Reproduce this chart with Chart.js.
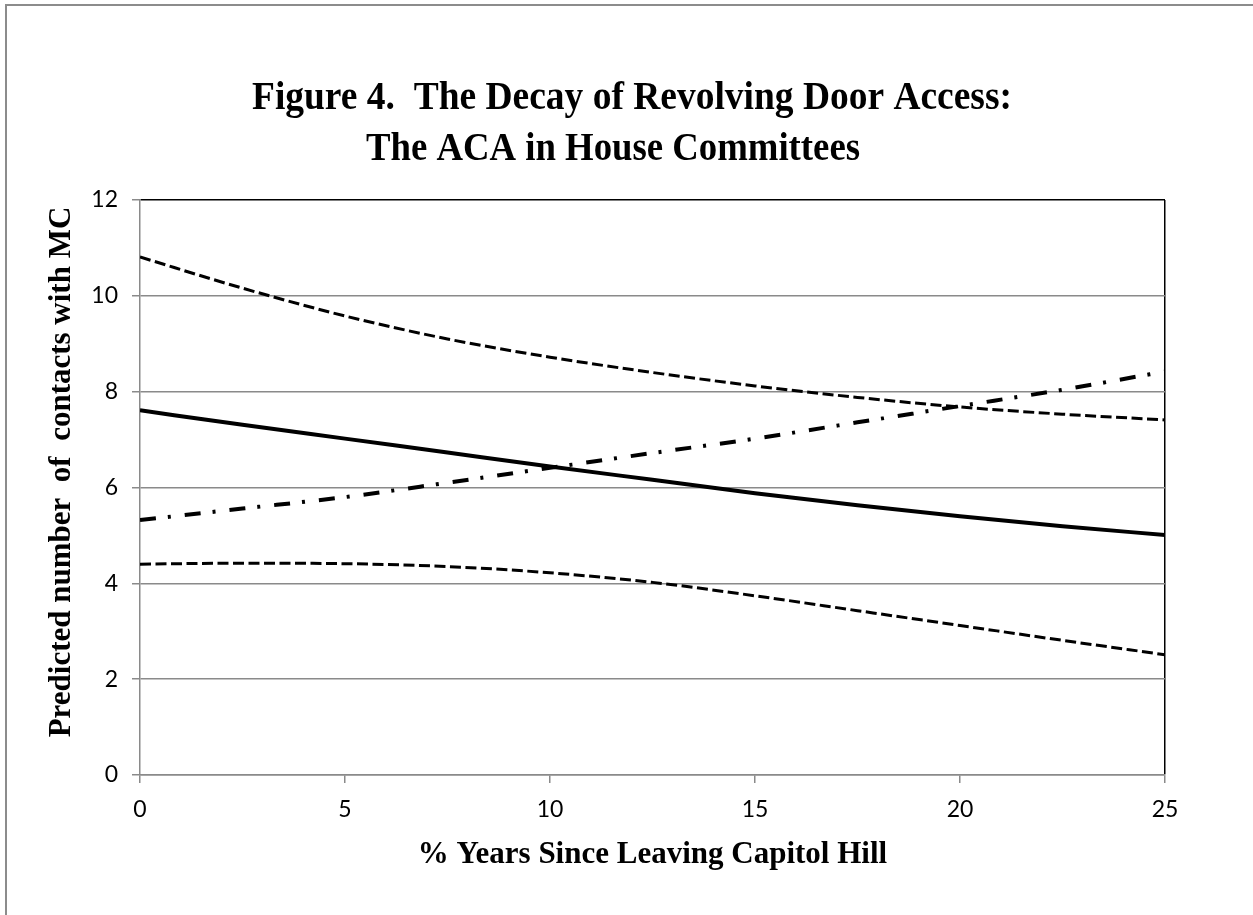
<!DOCTYPE html>
<html lang="en">

<head>
    <meta charset="UTF-8">
    <meta name="viewport" content="width=device-width, initial-scale=1.0">
    <script src="https://cdn.jsdelivr.net/npm/chart.js@4.4.0/dist/chart.umd.min.js"></script>
    <title>Figure 4 - Revolving Door Access</title>
    <style>
        html, body { margin: 0; padding: 0; background: #fff; overflow: hidden; }
        #frame { position: absolute; left: 5px; top: 4px; width: 1260px; height: 920px;
                 border-left: 2px solid #8c8c8c; border-top: 2px solid #8c8c8c; }
        #wrap { position: absolute; left: 0; top: 0; width: 1253px; height: 915px; }
    </style>
</head>

<body>

    <div id="frame"></div>
    <div id="wrap"><canvas id="myChart"></canvas></div>

    <script>
        // values
        const years = [0, 2.5, 5, 7.5, 10, 12.5, 15, 17.5, 20, 22.5, 25];
        const upperBound = [10.81, 10.16, 9.58, 9.10, 8.72, 8.40, 8.12, 7.88, 7.68, 7.53, 7.41];
        const predicted = [7.61, 7.31, 7.02, 6.73, 6.44, 6.16, 5.88, 5.63, 5.40, 5.19, 5.01];
        const comparison = [5.32, 5.56, 5.80, 6.10, 6.41, 6.72, 7.02, 7.36, 7.70, 8.04, 8.42];
        const lowerBound = [4.40, 4.42, 4.41, 4.35, 4.22, 4.02, 3.74, 3.43, 3.12, 2.81, 2.51];

        const titleLines = ['Figure 4.  The Decay of Revolving Door Access:', 'The ACA in House Committees'];
        const xTitle = '% Years Since Leaving Capitol Hill';
        const yTitle = '    Predicted number  of  contacts with MC';

        const toPoints = vals => years.map((x, i) => ({ x: x, y: vals[i] }));

        // two-line title, squeezed a little to the narrower width of the original serif face
        const titlePlugin = {
            id: 'figTitle',
            afterDraw(chart) {
                const ctx = chart.ctx;
                ctx.save();
                ctx.fillStyle = '#000';
                ctx.font = 'bold 40px "Liberation Serif"';
                ctx.textAlign = 'center';
                ctx.textBaseline = 'alphabetic';
                ctx.fillText(titleLines[0], 632, 109, 760);
                ctx.fillText(titleLines[1], 613, 160, 494);
                ctx.restore();
            }
        };

        const gridGrey = '#8a8a8a';
        const tickFont = { family: 'Lato', size: 23 };
        const axisTitleFont = { family: 'Liberation Serif', size: 31, weight: 'bold' };

        let chart = document.getElementById('myChart').getContext('2d');

        new Chart(chart, {
            type: 'line',
            data: {
                datasets: [{
                    label: 'Upper bound',
                    data: toPoints(upperBound),
                    borderColor: '#000',
                    borderWidth: 3,
                    borderDash: [11, 4.5]
                }, {
                    label: 'Predicted',
                    data: toPoints(predicted),
                    borderColor: '#000',
                    borderWidth: 4
                }, {
                    label: 'Comparison',
                    data: toPoints(comparison),
                    borderColor: '#000',
                    borderWidth: 4,
                    borderDash: [16, 12, 3, 14]
                }, {
                    label: 'Lower bound',
                    data: toPoints(lowerBound),
                    borderColor: '#000',
                    borderWidth: 3,
                    borderDash: [11, 4.5]
                }]
            },
            options: {
                responsive: true,
                maintainAspectRatio: false,
                animation: false,
                elements: {
                    point: { radius: 0 },
                    line: { cubicInterpolationMode: 'monotone', fill: false }
                },
                layout: {
                    padding: { top: 200, right: 88, bottom: 0, left: 0 }
                },
                plugins: {
                    legend: { display: false },
                    tooltip: { enabled: false },
                    title: { display: false }
                },
                scales: {
                    x: {
                        type: 'linear',
                        min: 0,
                        max: 25,
                        ticks: { stepSize: 5, padding: 13, font: tickFont, color: '#000' },
                        grid: {
                            color: c => (c.tick && c.tick.value === 25) ? '#000' : 'rgba(0,0,0,0)',
                            lineWidth: 1.5,
                            tickColor: gridGrey,
                            tickLength: 8
                        },
                        border: { color: gridGrey, width: 1.5 },
                        title: {
                            display: true,
                            text: xTitle,
                            color: '#000',
                            font: axisTitleFont,
                            padding: { top: 0, bottom: 41 }
                        },
                        afterFit: s => { s.height = 140; s.paddingLeft = 0; s.paddingRight = 0; }
                    },
                    y: {
                        min: 0,
                        max: 12,
                        ticks: { stepSize: 2, padding: 14, font: tickFont, color: '#000' },
                        grid: {
                            color: c => (c.tick && c.tick.value === 12) ? '#000' : gridGrey,
                            lineWidth: 1.5,
                            tickColor: gridGrey,
                            tickLength: 8
                        },
                        border: { color: gridGrey, width: 1.5 },
                        title: {
                            display: true,
                            text: yTitle,
                            color: '#000',
                            font: axisTitleFont,
                            padding: { top: 43, bottom: 0 }
                        },
                        afterFit: s => { s.width = 140; s.paddingTop = 0; s.paddingBottom = 0; }
                    }
                }
            },
            plugins: [titlePlugin]
        });
    </script>

</body>

</html>
